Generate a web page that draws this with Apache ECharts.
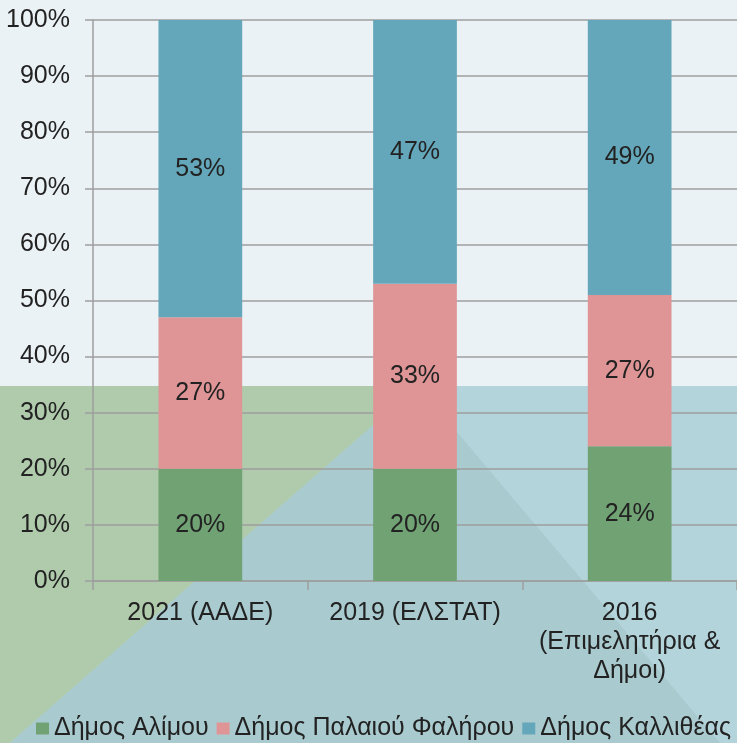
<!DOCTYPE html>
<html>
<head>
<meta charset="utf-8">
<script src="https://cdn.jsdelivr.net/npm/echarts@6/dist/echarts.min.js"></script>
<style>
  html, body { margin: 0; padding: 0; }
  #chart { width: 737px; height: 743px; }
</style>
</head>
<body>
<div id="chart"></div>
<script>
// κατηγορίες (πηγή / έτος)
var categories = ['2021 (ΑΑΔΕ)', '2019 (ΕΛΣΤΑΤ)', '2016\n(Επιμελητήρια &\nΔήμοι)'];
// μερίδια ανά δήμο (%)
var alimos = [20, 20, 24];
var palaioFaliro = [27, 33, 27];
var kallithea = [53, 47, 49];
var seriesNames = ['Δήμος Αλίμου', 'Δήμος Παλαιού Φαλήρου', 'Δήμος Καλλιθέας'];
var seriesColors = ['#70a274', '#df9596', '#64a7ba'];
// άξονας y
var yTicks = [0, 10, 20, 30, 40, 50, 60, 70, 80, 90, 100];

var font = "'Liberation Sans', Arial, sans-serif";
var fontSize = 25;
var gridColor = '#9e9e9e';

var chart = echarts.init(document.getElementById('chart'));

function makeSeries (name, data, color) {
  return {
    name: name,
    type: 'bar',
    stack: 'total',
    barWidth: '39%',
    data: data,
    itemStyle: { color: color },
    label: {
      show: true,
      position: 'inside',
      formatter: '{c}%',
      fontFamily: font,
      fontSize: fontSize,
      color: '#222'
    }
  }
}

var option = {
  backgroundColor: '#ebf2f5',
  animation: false,
  textStyle: { fontFamily: font },
  // διακοσμητικό φόντο
  graphic: [
    {
      type: 'polygon', z: -10, silent: true,
      shape: { points: [[0, 386], [737, 386], [737, 743], [0, 743]] },
      style: { fill: '#b3d4db' }
    },
    {
      type: 'polygon', z: -9, silent: true,
      shape: { points: [[0, 386], [418, 386], [10, 743], [0, 743]] },
      style: { fill: '#afcbac' }
    },
    {
      type: 'polygon', z: -9, silent: true,
      shape: { points: [[418, 386], [720, 743], [10, 743]] },
      style: { fill: '#a9cbcf' }
    }
  ],
  legend: {
    data: seriesNames,
    left: 36,
    top: 716,
    padding: 0,
    itemGap: 8,
    itemWidth: 13,
    itemHeight: 12,
    icon: 'rect',
    textStyle: { fontFamily: font, fontSize: fontSize, color: '#222' }
  },
  grid: {
    left: 93,
    right: -4,
    top: 20,
    bottom: 162
  },
  xAxis: {
    type: 'category',
    data: categories,
    axisLine: { show: true, lineStyle: { color: gridColor, width: 1.5 } },
    axisTick: { show: true, length: 9, alignWithLabel: false, lineStyle: { color: gridColor, width: 1.5 } },
    axisLabel: {
      margin: 18,
      fontFamily: font,
      fontSize: fontSize,
      lineHeight: 29,
      color: '#222',
      interval: 0
    }
  },
  yAxis: {
    type: 'value',
    min: yTicks[0],
    max: yTicks[yTicks.length - 1],
    interval: 10,
    axisLine: { show: true, lineStyle: { color: gridColor, width: 1.5 } },
    axisTick: { show: true, length: 8, lineStyle: { color: gridColor, width: 1.5 } },
    splitLine: { show: true, lineStyle: { color: gridColor, width: 1.5 } },
    axisLabel: {
      margin: 23,
      formatter: '{value}%',
      fontFamily: font,
      fontSize: fontSize,
      color: '#222'
    }
  },
  series: [
    makeSeries(seriesNames[0], alimos, seriesColors[0]),
    makeSeries(seriesNames[1], palaioFaliro, seriesColors[1]),
    makeSeries(seriesNames[2], kallithea, seriesColors[2])
  ]
};

chart.setOption(option);
</script>
</body>
</html>
